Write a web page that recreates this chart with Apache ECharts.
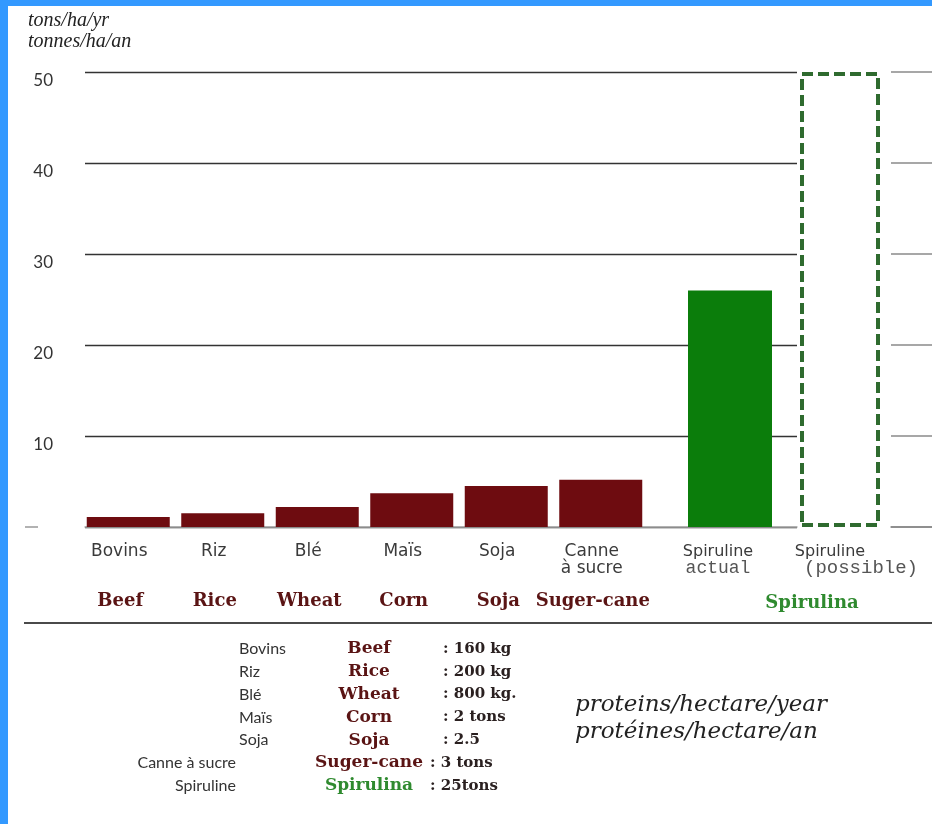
<!DOCTYPE html>
<html><head><meta charset="utf-8">
<script src="https://cdn.jsdelivr.net/npm/echarts@6/dist/echarts.min.js"></script>
<style>html,body{margin:0;padding:0;background:#fff}#c{width:932px;height:824px}</style>
</head><body><div id="c"></div>
<script>
// ---- data ----
const yMin = 0, yMax = 50, yStep = 10;
const yTitle = ['tons/ha/yr', 'tonnes/ha/an'];
const cropsFr = ['Bovins', 'Riz', 'Blé', 'Maïs', 'Soja', 'Canne\nà sucre'];
const cropsEn = ['Beef', 'Rice', 'Wheat', 'Corn', 'Soja', 'Suger-cane'];
const cropYield = [1.1, 1.5, 2.2, 3.7, 4.5, 5.2];
const spirFr = ['Spiruline', 'Spiruline'];
const spirSub = ['actual', '(possible)'];
const spirEn = 'Spirulina';
const spirActual = [26, null];
const spirPossible = [null, 50];
const tableFr = ['Bovins', 'Riz', 'Blé', 'Maïs', 'Soja', 'Canne à sucre', 'Spiruline'];
const tableEn = ['Beef', 'Rice', 'Wheat', 'Corn', 'Soja', 'Suger-cane', 'Spirulina'];
const tableAmt = ['160 kg', '200 kg', '800 kg.', '2 tons', '2.5', '3 tons', '25tons'];
const tableNote = ['proteins/hectare/year', 'protéines/hectare/an'];

// ---- styles ----
const RED = '#6e0c10', GREEN = '#0b7d0b', DGREEN = '#2f6b2f', BLUE = '#3399ff';
const SANS = 'Lato, "Open Sans", sans-serif';
const WSANS = '"DejaVu Sans", Lato, sans-serif';
const SERIF = '"Liberation Serif", "DejaVu Serif", serif';
const WSERIF = '"DejaVu Serif", "Liberation Serif", serif';
const MONO = '"Liberation Mono", "DejaVu Sans Mono", monospace';
const TOP = 72, BOTTOM = 297;

const chart = echarts.init(document.getElementById('c'), null, {renderer: 'canvas'});

const yBase = (i, showLabel) => ({
  type: 'value', gridIndex: i, min: yMin, max: yMax, interval: yStep,
  axisLine: {show: false}, axisTick: {show: false},
  axisLabel: showLabel ? {
    show: true, color: '#333', fontFamily: SANS, fontSize: 17, margin: 32,
    verticalAlign: 'top',
    formatter: v => (v === 0 ? '' : String(v))
  } : {show: false},
  splitLine: {show: i === 0 || i === 3, lineStyle: {color: i === 3 ? '#8a8a8a' : '#333', width: i === 3 ? 1.5 : 1.3}}
});

const graphics = [
  {type: 'rect', shape: {x: 0, y: 0, width: 8, height: 824}, style: {fill: BLUE}, z: 100},
  {type: 'rect', shape: {x: 0, y: 0, width: 932, height: 6}, style: {fill: BLUE}, z: 100},
  {type: 'line', shape: {x1: 24, y1: 623, x2: 932, y2: 623}, style: {stroke: '#4a4a4a', lineWidth: 2}},
  {type: 'line', shape: {x1: 25, y1: 527, x2: 38, y2: 527}, style: {stroke: '#999', lineWidth: 1.5}},
  {type: 'text', left: 28, top: 10, style: {text: yTitle.join('\n'), font: 'italic 20px ' + SERIF, fill: '#222', lineHeight: 21}},
  {type: 'text', x: 812, y: 603, style: {text: spirEn, font: 'bold 18px ' + WSERIF, fill: '#2f8a2f', align: 'center', verticalAlign: 'middle'}}
];
const rowY0 = 649, rowStep = 22.8;
tableFr.forEach((t, i) => {
  const y = rowY0 + i * rowStep;
  const right = i >= 5;
  graphics.push({type: 'text', x: right ? 236 : 239, y: y, style: {text: t, font: '16px ' + SANS, fill: '#333', align: right ? 'right' : 'left', verticalAlign: 'middle'}});
  graphics.push({type: 'text', x: 369, y: y, style: {text: tableEn[i], font: 'bold 17px ' + WSERIF, fill: i === 6 ? '#2f8a2f' : '#5a1414', align: 'center', verticalAlign: 'middle'}});
  graphics.push({type: 'text', x: right ? 430 : 443, y: y, style: {text: ': ' + tableAmt[i], font: 'bold 15px ' + WSERIF, fill: '#2a2020', align: 'left', verticalAlign: 'middle'}});
});
tableNote.forEach((t, i) => {
  graphics.push({type: 'text', x: 575, y: 705 + i * 27, style: {text: t, font: 'italic 23px ' + WSERIF, fill: '#222', verticalAlign: 'middle'}});
});

chart.setOption({
  animation: false,
  backgroundColor: '#fff',
  grid: [
    {left: 85, right: 135, top: TOP, bottom: BOTTOM},
    {left: 81, right: 284, top: TOP, bottom: BOTTOM},
    {left: 672, right: 36, top: TOP, bottom: BOTTOM},
    {left: 891, right: 0, top: TOP, bottom: BOTTOM}
  ],
  xAxis: [
    {type: 'value', gridIndex: 0, min: 0, max: 1, axisLabel: {show: false}, axisTick: {show: false}, splitLine: {show: false},
      axisLine: {show: true, lineStyle: {color: '#aaa', width: 1.5}}},
    {type: 'category', gridIndex: 1, data: cropsFr, axisLine: {show: false}, axisTick: {show: false},
      axisLabel: {color: '#3a3a3a', fontFamily: WSANS, fontSize: 17, lineHeight: 17, margin: 16, padding: [0, 18, 0, 0], interval: 0}},
    {type: 'category', gridIndex: 2, data: spirFr, axisLine: {show: false}, axisTick: {show: false},
      axisLabel: {interval: 0, margin: 16,
        formatter: (v, i) => '{a|' + spirFr[i] + '}\n{' + (i === 0 ? 'b' : 'c') + '|' + spirSub[i] + '}',
        rich: {a: {color: '#3a3a3a', fontFamily: WSANS, fontSize: 16, lineHeight: 17, padding: [0, 20, 0, 0]},
               b: {color: '#555', fontFamily: MONO, fontSize: 18, lineHeight: 16, padding: [0, 20, 0, 0]},
               c: {color: '#555', fontFamily: MONO, fontSize: 19, lineHeight: 16, padding: [0, 0, 0, 42]}}}},
    {type: 'value', gridIndex: 3, min: 0, max: 1, axisLabel: {show: false}, axisTick: {show: false}, splitLine: {show: false},
      axisLine: {show: true, lineStyle: {color: '#888', width: 1.5}}},
    {type: 'category', gridIndex: 1, data: cropsEn, position: 'bottom', offset: 58, axisLine: {show: false}, axisTick: {show: false},
      axisLabel: {color: '#5a1414', fontFamily: WSERIF, fontWeight: 'bold', fontSize: 18, margin: 7, padding: [0, 16, 0, 0], interval: 0}}
  ],
  yAxis: [yBase(0, true), yBase(1, false), yBase(2, false), yBase(3, false)],
  graphic: graphics,
  series: [
    {type: 'bar', name: 'crops', xAxisIndex: 1, yAxisIndex: 1, data: cropYield, barWidth: 83,
      itemStyle: {color: RED}},
    {type: 'bar', name: 'Spirulina actual', xAxisIndex: 2, yAxisIndex: 2, data: spirActual, barWidth: 84, barGap: '-100%',
      itemStyle: {color: GREEN}},
    {type: 'bar', name: 'Spirulina possible', xAxisIndex: 2, yAxisIndex: 2, data: spirPossible, barWidth: 80,
      itemStyle: {color: 'rgba(255,255,255,0)', borderColor: DGREEN, borderWidth: 4, borderType: [11, 5]}}
  ]
});
</script></body></html>
